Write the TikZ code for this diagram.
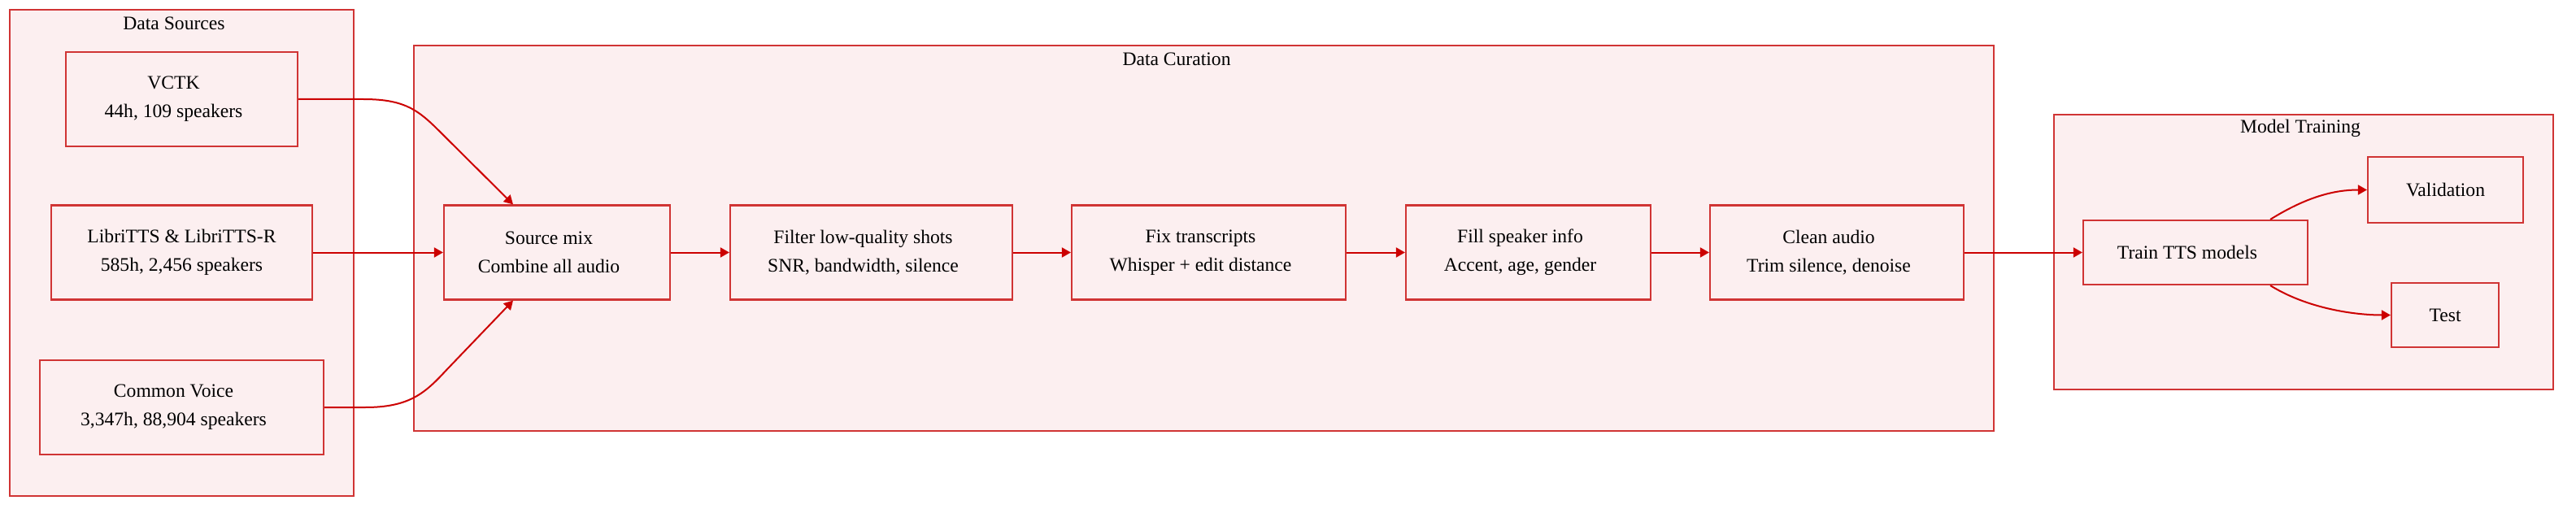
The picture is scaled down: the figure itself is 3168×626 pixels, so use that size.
\documentclass[tikz,border=0pt]{standalone}
\usepackage{fontspec}
\setmainfont{Liberation Serif}
\usetikzlibrary{arrows.meta}
\definecolor{boxR}{RGB}{208,52,52}
\definecolor{lineR}{RGB}{204,0,0}
\definecolor{boxF}{RGB}{252,239,240}
\newcommand{\rpad}{\hspace*{10pt}}
\tikzset{
  stage/.style={draw=boxR, fill=boxF, line width=1.1pt, align=center,
    minimum height=58pt, inner sep=0pt, font=\fontsize{11.8}{17.5}\selectfont},
  cluster/.style={draw=boxR, fill=boxF, line width=1pt},
  ctitle/.style={inner sep=0pt, font=\fontsize{11.8}{14}\selectfont},
  flow/.style={draw=lineR, line width=1pt, -{Triangle[length=5.5pt,width=6pt]}}
}

\begin{document}
\begin{tikzpicture}[x=0.5pt, y=-0.5pt]
  \useasboundingbox (0,0) rectangle (3168,626);
  % groups
  \draw[cluster] (12,12) rectangle (435,610);
  \draw[cluster] (509,56) rectangle (2452,530);
  \draw[cluster] (2526,141) rectangle (3140,479);
  \node[ctitle] (tsrc) at (214,29) {Data Sources};
  \node[ctitle] (tcur) at (1447,73) {Data Curation};
  \node[ctitle] (ttrn) at (2829,158) {Model Training};
  % sources
  \node[stage, minimum width=142.5pt] (vctk) at (223.5,122) {VCTK\rpad\\44h, 109 speakers\rpad};
  \node[stage, minimum width=160.5pt] (libri) at (223.5,310.5) {LibriTTS \& LibriTTS-R\\585h, 2,456 speakers};
  \node[stage, minimum width=174.5pt] (cv) at (223.5,501) {Common Voice\rpad\\3,347h, 88,904 speakers\rpad};
  % curation steps
  \node[stage, minimum width=139pt] (mix) at (685,310.5) {Source mix\rpad\\Combine all audio\rpad};
  \node[stage, minimum width=173.5pt] (filter) at (1071.5,310.5) {Filter low-quality shots\rpad\\SNR, bandwidth, silence\rpad};
  \node[stage, minimum width=168.5pt] (fix) at (1486.5,310.5) {Fix transcripts\rpad\\Whisper + edit distance\rpad};
  \node[stage, minimum width=150.5pt] (fill) at (1879.5,310.5) {Fill speaker info\rpad\\Accent, age, gender\rpad};
  \node[stage, minimum width=156pt] (clean) at (2259,310.5) {Clean audio\rpad\\Trim silence, denoise\rpad};
  % training
  \node[stage, minimum width=138pt, minimum height=39.5pt] (train) at (2700,310.5) {Train TTS models\rpad};
  \node[stage, minimum width=95.5pt, minimum height=40.5pt] (val) at (3007.5,233.5) {Validation};
  \node[stage, minimum width=66pt, minimum height=39.5pt] (test) at (3007,387.5) {Test};
  \coordinate (mixtop) at ([xshift=-27pt]mix.north);
  \coordinate (mixbot) at ([xshift=-27pt]mix.south);
  \coordinate (trntop) at ([xshift=46pt]train.north);
  \coordinate (trnbot) at ([xshift=46pt]train.south);
  % edges
  \draw[flow] (vctk.east) -- ++(80,0) .. controls +(55,0) and +(-30,-30) .. ++(100,46) -- (mixtop);
  \draw[flow] (libri.east) -- (mix.west);
  \draw[flow] (cv.east) -- ++(50,0) .. controls +(55,0) and +(-26,28) .. ++(100,-46) -- (mixbot);
  \draw[flow] (mix.east) -- (filter.west);
  \draw[flow] (filter.east) -- (fix.west);
  \draw[flow] (fix.east) -- (fill.west);
  \draw[flow] (fill.east) -- (clean.west);
  \draw[flow] (clean.east) -- (train.west);
  \draw[flow] (trntop) .. controls +(45,-28) and +(-40,0) .. (val.west);
  \draw[flow] (trnbot) .. controls +(45,28) and +(-45,0) .. (test.west);
\end{tikzpicture}
\end{document}
